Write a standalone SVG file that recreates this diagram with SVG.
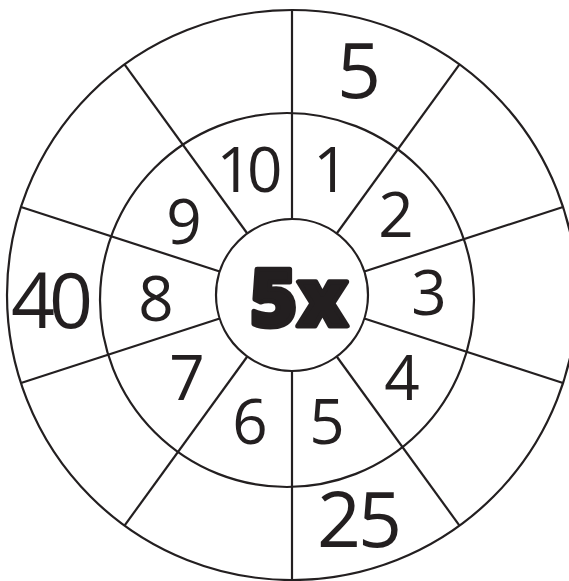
<svg xmlns="http://www.w3.org/2000/svg" width="569" height="581" viewBox="0 0 569 581">
<style>
.ring{fill:none;stroke:#231f20;stroke-width:2.2}
.spoke{stroke:#231f20;stroke-width:2.2;fill:none}
.n{font-family:"Open Sans","Liberation Sans",sans-serif;fill:#231f20;text-anchor:middle}
.in{font-size:62px}
.out{font-size:77px}
.c{font-size:80px;font-weight:800;stroke:#231f20;stroke-width:5;stroke-linejoin:round}
</style>
<rect width="569" height="581" fill="#fff"/>
<g id="outer-ring"><circle class="ring" cx="292" cy="295" r="285"/></g>
<g id="inner-ring"><circle class="ring" cx="287" cy="300" r="187"/></g>
<g id="connectors">
<line class="spoke" x1="292" y1="219" x2="292" y2="10"/>
<line class="spoke" x1="336.7" y1="233.5" x2="459.5" y2="64.4"/>
<line class="spoke" x1="364.3" y1="271.5" x2="563" y2="207"/>
<line class="spoke" x1="364.3" y1="318.5" x2="563" y2="383"/>
<line class="spoke" x1="336.7" y1="356.5" x2="459.5" y2="525.6"/>
<line class="spoke" x1="292" y1="371" x2="292" y2="580"/>
<line class="spoke" x1="247.3" y1="356.5" x2="124.5" y2="525.6"/>
<line class="spoke" x1="219.7" y1="318.5" x2="21" y2="383"/>
<line class="spoke" x1="219.7" y1="271.5" x2="21" y2="207"/>
<line class="spoke" x1="247.3" y1="233.5" x2="124.5" y2="64.4"/>
</g>
<g id="center"><circle class="ring" cx="292" cy="295" r="76" fill="#fff"/><text class="n c" x="299" y="326">5x</text></g>
<g id="labels">
<text id="t1" class="n in" x="331" y="192">1</text>
<text id="t2" class="n in" x="396" y="237">2</text>
<text id="t3" class="n in" x="429" y="315">3</text>
<text id="t4" class="n in" x="402" y="400">4</text>
<text id="t5" class="n in" x="327" y="444">5</text>
<text id="t6" class="n in" x="250" y="444">6</text>
<text id="t7" class="n in" x="187" y="400">7</text>
<text id="t8" class="n in" x="156" y="321">8</text>
<text id="t9" class="n in" x="184" y="244">9</text>
<text id="t10" class="n in" x="247" y="192" letter-spacing="-5">10</text>
<text id="a5" class="n out" x="359" y="98">5</text>
<text id="a25" class="n out" x="358" y="547" letter-spacing="-3">25</text>
<text id="a40" class="n out" x="49" y="328" letter-spacing="-6">40</text>
</g>
</svg>
